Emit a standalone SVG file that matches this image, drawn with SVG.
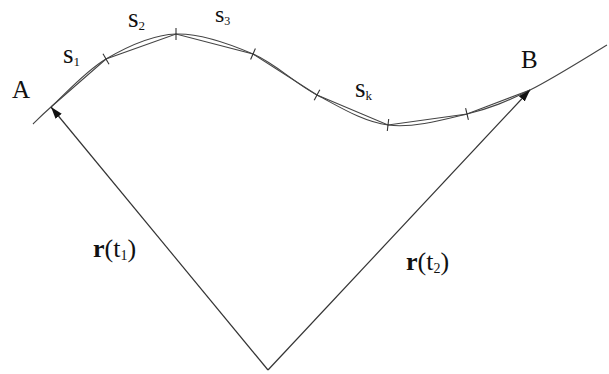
<svg xmlns="http://www.w3.org/2000/svg" width="609" height="374" viewBox="0 0 609 374">
<style>
.ln{fill:none;stroke:#333;stroke-width:1.2}
.cv{fill:none;stroke:#444;stroke-width:1.1}
.tk{fill:none;stroke:#333;stroke-width:1.1}
.lbl{font-family:"Liberation Serif",serif;fill:#111}
.b{font-weight:bold}
</style>
<defs>
<marker id="ah" viewBox="0 0 12 8" refX="12" refY="4" markerWidth="12" markerHeight="8" markerUnits="userSpaceOnUse" orient="auto">
<path d="M0,0 L12,4 L0,8 Z" fill="#111"/>
</marker>
</defs>
<g id="curve">
<path class="cv" d="M33,124 C36,121.2 38.8,117.8 51,107 C63.2,96.2 85.2,71.2 106,59 C126.8,46.8 151.5,34.8 176,34 C200.5,33.2 229.5,43.8 253,54 C276.5,64.2 294.5,83.2 317,95 C339.5,106.8 363,121.8 388,125 C413,128.2 443.3,119.8 467,114 C490.7,108.2 506.7,101.5 530,90 C553.3,78.5 594.2,52.5 607,45"/>
</g>
<g id="chords">
<polyline class="cv" points="51,107 106,59 176,34 253,54 317,95 388,125 467,114 530,90"/>
</g>
<g id="ticks">
<line class="tk" x1="103" y1="53.8" x2="109" y2="64.2"/>
<line class="tk" x1="176" y1="28" x2="176" y2="40"/>
<line class="tk" x1="255.4" y1="48.5" x2="250.6" y2="59.5"/>
<line class="tk" x1="319.8" y1="89.7" x2="314.2" y2="100.3"/>
<line class="tk" x1="388.7" y1="119" x2="387.3" y2="131"/>
<line class="tk" x1="465.6" y1="108.2" x2="468.4" y2="119.8"/>
</g>
<g id="connectors">
<line class="ln" x1="268" y1="370" x2="51" y2="107" marker-end="url(#ah)"/>
<line class="ln" x1="268" y1="370" x2="530" y2="90" marker-end="url(#ah)"/>
</g>
<g id="labels">
<text class="lbl" x="12" y="98" font-size="25">A</text>
<text class="lbl" x="521" y="68" font-size="25">B</text>
<text class="lbl" x="63" y="63" font-size="27">s<tspan font-size="13" dy="3">1</tspan></text>
<text class="lbl" x="128" y="27" font-size="27">s<tspan font-size="13" dy="3">2</tspan></text>
<text class="lbl" x="215" y="22" font-size="24">s<tspan font-size="12" dy="3">3</tspan></text>
<text class="lbl" x="355" y="97" font-size="27">s<tspan font-size="13" dy="3">k</tspan></text>
<text class="lbl" x="93" y="257" font-size="26"><tspan class="b">r</tspan>(t<tspan font-size="14" dy="3">1</tspan><tspan dy="-3">)</tspan></text>
<text class="lbl" x="406" y="270" font-size="26"><tspan class="b">r</tspan>(t<tspan font-size="14" dy="3">2</tspan><tspan dy="-3">)</tspan></text>
</g>
</svg>
